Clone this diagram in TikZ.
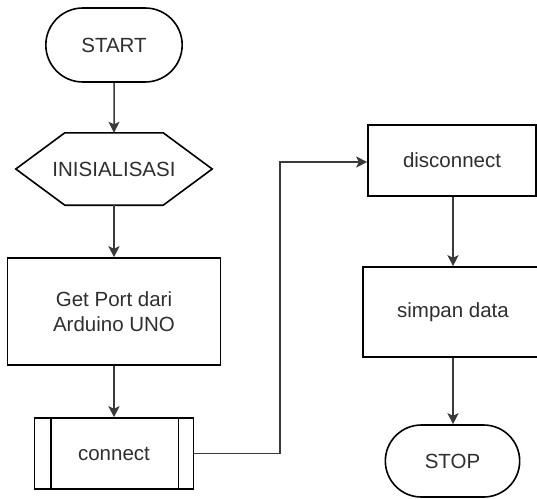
\documentclass[tikz,border=0pt]{standalone}
\usepackage{fontspec}
\setmainfont{Liberation Sans}
\usetikzlibrary{arrows.meta,shapes.misc}
\definecolor{txt}{HTML}{2E2E2E}
\definecolor{wire}{HTML}{3A3A3A}
\tikzset{
  box/.style={draw=black, line width=1.6pt, rectangle, align=center, text=txt,
    font=\fontsize{20.5}{25}\selectfont},
  term/.style={box, rounded rectangle},
  plain/.style={draw=none, rectangle, align=center, text=txt,
    font=\fontsize{20.5}{25}\selectfont},
  flow/.style={draw=wire, line width=1.5pt, -{Stealth[length=11pt,width=11pt,inset=2.5pt]}}
}
\begin{document}
\begin{tikzpicture}[x=1pt,y=-1pt]
  \useasboundingbox (0,0) rectangle (537,498);
  % terminators and process boxes
  \node[term, minimum width=143pt, minimum height=74pt] (start) at (114,45) {START};
  \node[plain, minimum width=196pt, minimum height=72pt] (init) at (114,169) {INISIALISASI};
  \draw[black, line width=1.6pt] (init.west) -- ([xshift=49pt]init.north west)
    -- ([xshift=-49pt]init.north east) -- (init.east)
    -- ([xshift=-49pt]init.south east) -- ([xshift=49pt]init.south west) -- cycle;
  \node[box, minimum width=213pt, minimum height=107pt] (port) at (114,311.5)
    {Get Port dari\\Arduino UNO};
  \node[box, minimum width=159pt, minimum height=71pt] (conn) at (114,453.5) {connect};
  \draw[black, line width=1.6pt]
    ([xshift=17pt]conn.north west) -- ([xshift=17pt]conn.south west)
    ([xshift=-16pt]conn.north east) -- ([xshift=-16pt]conn.south east);
  \node[box, minimum width=168pt, minimum height=71pt] (disc) at (452,160.5) {disconnect};
  \node[box, minimum width=180pt, minimum height=90pt] (simp) at (453,312) {simpan data};
  \node[term, minimum width=141pt, minimum height=72pt] (stop) at (452.5,461) {STOP};
  % connectors
  \coordinate (bend) at (280,162);
  \draw[flow] (start) -- (init);
  \draw[flow] (init) -- (port);
  \draw[flow] (port) -- (conn);
  \draw[flow] (conn.east) -- (conn.east -| bend) -- (bend) -- (disc.west |- bend);
  \draw[flow] (disc.south -| simp.north) -- (simp.north);
  \draw[flow] (simp.south) -- (stop.north -| simp.south);
\end{tikzpicture}
\end{document}
